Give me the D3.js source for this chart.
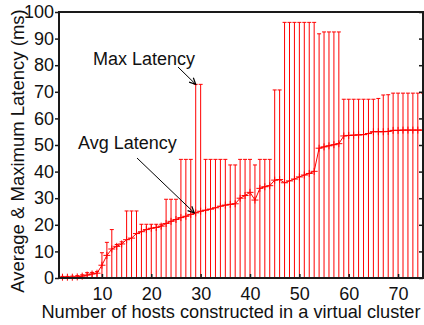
<!DOCTYPE html>
<html><head><meta charset="utf-8">
<script src="https://cdn.jsdelivr.net/npm/d3@7"></script>
<style>
html,body{margin:0;padding:0;background:#fff;}
text{font-family:"Liberation Sans",Arial,sans-serif;}
</style></head>
<body>
<svg id="chart" width="424" height="325"></svg>
<script>
const hosts = [2,3,4,5,6,7,8,9,10,11,12,13,14,15,16,17,18,19,20,21,22,23,24,25,26,27,28,29,30,31,32,33,34,35,36,37,38,39,40,41,42,43,44,45,46,47,48,49,50,51,52,53,54,55,56,57,58,59,60,61,62,63,64,65,66,67,68,69,70,71,72,73,74,75];
const avgLatency = [0.3,0.3,0.3,0.4,0.7,1.1,1.5,1.8,4.8,8.5,10.9,11.9,12.8,14.4,15.0,16.7,17.4,18.2,18.7,19.0,19.5,20.5,21.3,22.0,22.7,23.2,23.9,24.5,25.1,25.5,25.9,26.4,27.0,27.4,27.7,27.9,30.0,31.0,32.2,29.3,33.7,34.3,34.7,36.8,37.0,35.8,36.5,37.2,38.0,38.7,39.3,40.1,48.8,49.3,49.7,50.1,50.5,53.4,53.6,53.7,53.8,53.9,54.3,55.0,55.0,55.0,55.1,55.5,55.5,55.6,55.6,55.6,55.6,55.6];
const maxLatency = [0.6,0.6,0.7,0.9,1.2,2.0,2.1,2.4,9.5,13.4,18.2,12.6,13.6,25.2,25.2,25.2,20.2,20.2,20.2,20.2,20.2,29.6,29.6,29.6,44.6,44.6,44.6,72.8,72.8,44.6,44.6,44.6,44.6,44.6,42.5,42.5,44.6,44.6,44.6,42.5,44.6,44.6,44.6,70.7,70.7,96.1,96.1,96.1,96.1,96.1,96.1,96.1,91.8,92.5,92.5,92.5,92.5,67.2,67.2,67.2,67.2,67.2,67.2,67.2,67.5,68.8,68.9,69.5,69.5,69.5,69.5,69.5,69.5,69.5];
const xTicks = [10,20,30,40,50,60,70];
const yTicks = [0,10,20,30,40,50,60,70,80,90,100];
const xLabel = "Number of hosts constructed in a virtual cluster";
const yLabel = "Average & Maximum Latency (ms)";
const notes = [
  {text:"Max Latency", host:29, value:72.8, tx:93, ty:65, fx:178, fy:67},
  {text:"Avg Latency", host:28.7, value:24.5, tx:78, ty:149, fx:137, fy:158}
];

const svg = d3.select("#chart");
const L=59, R=423, T=12, B=278;
const x = d3.scaleLinear().domain([1.3,75.05]).range([L,R]);
const y = d3.scaleLinear().domain([0,100]).range([B,T]);
const data = hosts.map((h,i)=>({h, avg:avgLatency[i], max:maxLatency[i]}));
const red = "#ff0000";

// error bars
const g = svg.append("g");
g.selectAll("line.bar").data(data).join("line").attr("class","bar")
  .attr("x1",d=>x(d.h)).attr("x2",d=>x(d.h))
  .attr("y1",y(0)).attr("y2",d=>y(d.max))
  .attr("stroke",red).attr("stroke-width",1);
g.selectAll("line.cap").data(data).join("line").attr("class","cap")
  .attr("x1",d=>x(d.h)-2).attr("x2",d=>x(d.h)+2)
  .attr("y1",d=>y(d.max)).attr("y2",d=>y(d.max))
  .attr("stroke",red).attr("stroke-width",1);

// avg line
g.append("path").datum(data)
  .attr("d", d3.line().x(d=>x(d.h)).y(d=>y(d.avg)))
  .attr("fill","none").attr("stroke",red).attr("stroke-width",1);
g.selectAll("path.plus").data(data).join("path").attr("class","plus")
  .attr("d", d=>{const px=x(d.h), py=y(d.avg); return `M${px-3.5},${py}H${px+3.5}M${px},${py-3.5}V${py+3.5}`;})
  .attr("stroke",red).attr("stroke-width",1).attr("fill","none");

// axes
const axisColor="#1a1a1a";
const fs = 18;
const ax = svg.append("g").attr("transform",`translate(0,${B})`)
  .call(d3.axisBottom(x).tickValues(xTicks).tickSize(-4).tickPadding(9).tickFormat(d3.format("d")));
const ay = svg.append("g").attr("transform",`translate(${L},0)`)
  .call(d3.axisLeft(y).tickValues(yTicks).tickSize(4).tickPadding(1).tickFormat(d3.format("d")));
const ar = svg.append("g").attr("transform",`translate(${R},0)`)
  .call(d3.axisRight(y).tickValues(yTicks).tickSize(-4).tickFormat(""));
[ax,ay,ar].forEach(a=>{
  a.select(".domain").remove();
  a.selectAll("line").attr("stroke",axisColor).attr("stroke-width",1.5);
  a.selectAll("text").attr("fill","#111").style("font-size",fs+"px").style("font-family","Liberation Sans, Arial, sans-serif");
});
svg.append("rect").attr("x",L).attr("y",T).attr("width",R-L).attr("height",B-T)
  .attr("fill","none").attr("stroke",axisColor).attr("stroke-width",2);

// labels
svg.append("text").attr("x",231).attr("y",318).attr("text-anchor","middle")
  .style("font-size","18.2px").attr("fill","#111").text(xLabel);
svg.append("text").attr("transform","translate(24,151) rotate(-90)").attr("text-anchor","middle")
  .style("font-size","18.5px").attr("fill","#111").text(yLabel);

// annotations
notes.forEach(n=>{
  svg.append("text").attr("x",n.tx).attr("y",n.ty).style("font-size","18px").attr("fill","#111").text(n.text);
  const ex=x(n.host), ey=y(n.value);
  svg.append("line").attr("x1",n.fx).attr("y1",n.fy).attr("x2",ex).attr("y2",ey)
    .attr("stroke","#000").attr("stroke-width",1);
  const ang=Math.atan2(ey-n.fy, ex-n.fx), len=7, spread=0.45;
  const p1=[ex-len*Math.cos(ang-spread), ey-len*Math.sin(ang-spread)];
  const p2=[ex-len*Math.cos(ang+spread), ey-len*Math.sin(ang+spread)];
  svg.append("path").attr("d",`M${p1[0]},${p1[1]}L${ex},${ey}L${p2[0]},${p2[1]}`)
    .attr("fill","none").attr("stroke","#000").attr("stroke-width",1.2);
});
</script>
</body></html>
